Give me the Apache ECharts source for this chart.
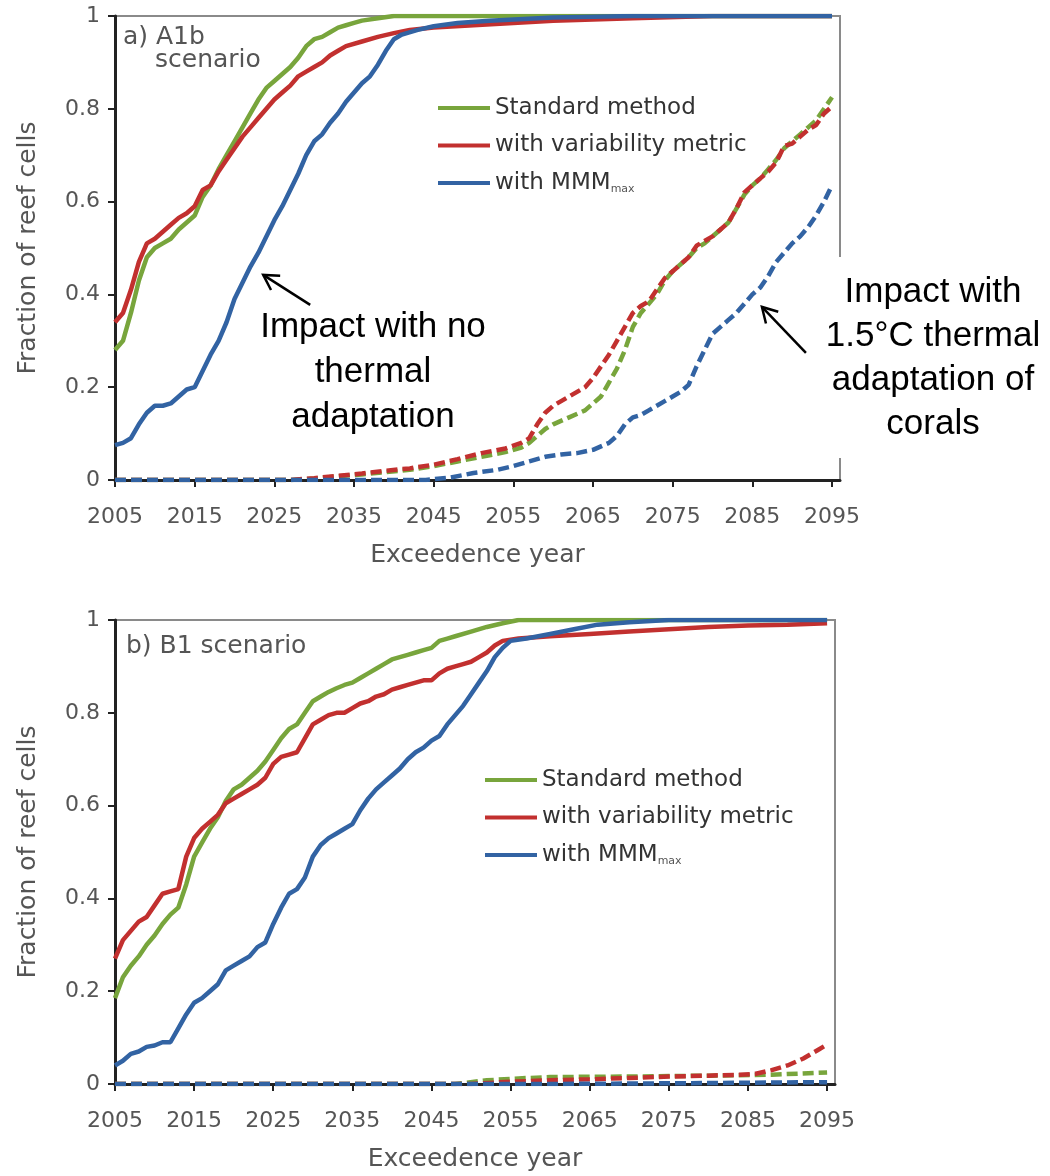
<!DOCTYPE html>
<html>
<head>
<meta charset="utf-8">
<script src="https://cdn.jsdelivr.net/npm/echarts@6/dist/echarts.min.js"></script>
<style>
html,body{margin:0;padding:0;background:#ffffff;}
#chart{width:1050px;height:1176px;}
</style>
</head>
<body>
<div id="chart"></div>
<script>
// ---------- tick labels / categories ----------
const xTickYears = [2005, 2015, 2025, 2035, 2045, 2055, 2065, 2075, 2085, 2095];
const legendNames = ['Standard method', 'with variability metric', 'with MMMmax'];
const panelLabels = ['a) A1b', 'scenario', 'b) B1 scenario'];
const axisNames = ['Fraction of reef cells', 'Exceedence year'];
const noteNoAdapt = 'Impact with no\nthermal\nadaptation';
const noteAdapt = 'Impact with\n1.5\u00B0C thermal\nadaptation of\ncorals';

// ---------- panel a) A1b : no thermal adaptation (solid) ----------
const a1bStandard = [[2005,0.28],[2006,0.30],[2007,0.36],[2008,0.43],[2009,0.48],[2010,0.50],[2011,0.51],[2012,0.52],[2013,0.54],[2014,0.555],[2015,0.57],[2016,0.61],[2017,0.635],[2018,0.67],[2019,0.70],[2020,0.73],[2021,0.76],[2022,0.79],[2023,0.82],[2024,0.845],[2025,0.86],[2026,0.875],[2027,0.89],[2028,0.91],[2029,0.935],[2030,0.95],[2031,0.955],[2032,0.965],[2033,0.975],[2034,0.98],[2035,0.985],[2036,0.99],[2038,0.995],[2040,1],[2095,1]];
const a1bVariability = [[2005,0.34],[2006,0.36],[2007,0.41],[2008,0.47],[2009,0.51],[2010,0.52],[2011,0.535],[2012,0.55],[2013,0.565],[2014,0.575],[2015,0.59],[2016,0.625],[2017,0.635],[2018,0.665],[2019,0.69],[2020,0.715],[2021,0.74],[2022,0.76],[2023,0.78],[2024,0.80],[2025,0.82],[2026,0.835],[2027,0.85],[2028,0.87],[2029,0.88],[2030,0.89],[2031,0.90],[2032,0.915],[2033,0.925],[2034,0.935],[2036,0.945],[2038,0.955],[2040,0.963],[2042,0.97],[2045,0.975],[2050,0.98],[2055,0.985],[2060,0.99],[2070,0.995],[2080,1],[2095,1]];
const a1bMMMmax = [[2005,0.075],[2006,0.08],[2007,0.09],[2008,0.12],[2009,0.145],[2010,0.16],[2011,0.16],[2012,0.165],[2013,0.18],[2014,0.195],[2015,0.20],[2016,0.235],[2017,0.27],[2018,0.30],[2019,0.34],[2020,0.39],[2021,0.425],[2022,0.46],[2023,0.49],[2024,0.525],[2025,0.56],[2026,0.59],[2027,0.625],[2028,0.66],[2029,0.70],[2030,0.73],[2031,0.745],[2032,0.77],[2033,0.79],[2034,0.815],[2035,0.835],[2036,0.855],[2037,0.87],[2038,0.895],[2039,0.925],[2040,0.95],[2041,0.96],[2043,0.97],[2045,0.978],[2048,0.985],[2052,0.99],[2060,0.997],[2070,1],[2095,1]];

// ---------- panel a) A1b : 1.5°C thermal adaptation (dashed) ----------
const a1bStandardAdapt = [[2005,0],[2027,0],[2030,0.003],[2033,0.008],[2036,0.012],[2039,0.017],[2042,0.022],[2045,0.03],[2048,0.04],[2051,0.05],[2054,0.06],[2056,0.07],[2057,0.08],[2058,0.095],[2059,0.11],[2060,0.12],[2062,0.135],[2064,0.15],[2065,0.165],[2066,0.18],[2067,0.21],[2068,0.24],[2069,0.28],[2070,0.33],[2071,0.36],[2072,0.38],[2073,0.40],[2074,0.43],[2075,0.45],[2076,0.465],[2077,0.48],[2078,0.50],[2079,0.51],[2080,0.525],[2081,0.54],[2082,0.555],[2083,0.585],[2084,0.615],[2085,0.635],[2086,0.65],[2087,0.67],[2088,0.69],[2089,0.715],[2090,0.73],[2091,0.745],[2092,0.76],[2093,0.775],[2094,0.80],[2095,0.825]];
const a1bVariabilityAdapt = [[2005,0],[2027,0],[2030,0.004],[2033,0.009],[2036,0.014],[2039,0.02],[2042,0.025],[2045,0.033],[2048,0.045],[2051,0.058],[2054,0.068],[2056,0.08],[2057,0.09],[2058,0.12],[2059,0.145],[2060,0.16],[2061,0.17],[2062,0.18],[2063,0.19],[2064,0.20],[2065,0.22],[2066,0.245],[2067,0.27],[2068,0.30],[2069,0.33],[2070,0.36],[2071,0.375],[2072,0.385],[2073,0.41],[2074,0.435],[2075,0.45],[2076,0.465],[2077,0.48],[2078,0.505],[2079,0.515],[2080,0.525],[2081,0.54],[2082,0.555],[2083,0.585],[2084,0.62],[2085,0.635],[2086,0.65],[2087,0.665],[2088,0.685],[2089,0.72],[2090,0.725],[2091,0.74],[2092,0.755],[2093,0.765],[2094,0.79],[2095,0.805]];
const a1bMMMmaxAdapt = [[2005,0],[2044,0],[2047,0.005],[2050,0.015],[2053,0.022],[2055,0.03],[2057,0.04],[2059,0.05],[2061,0.055],[2063,0.058],[2065,0.065],[2067,0.08],[2068,0.095],[2069,0.12],[2070,0.135],[2071,0.14],[2072,0.15],[2073,0.16],[2074,0.17],[2075,0.18],[2076,0.19],[2077,0.205],[2078,0.245],[2079,0.28],[2080,0.315],[2081,0.33],[2082,0.345],[2083,0.36],[2084,0.38],[2085,0.40],[2086,0.415],[2087,0.44],[2088,0.47],[2089,0.49],[2090,0.51],[2091,0.525],[2092,0.545],[2093,0.57],[2094,0.60],[2095,0.635]];

// ---------- panel b) B1 : no thermal adaptation (solid) ----------
const b1Standard = [[2005,0.185],[2006,0.23],[2007,0.255],[2008,0.275],[2009,0.30],[2010,0.32],[2011,0.345],[2012,0.365],[2013,0.38],[2014,0.43],[2015,0.49],[2016,0.52],[2017,0.55],[2018,0.575],[2019,0.61],[2020,0.635],[2021,0.645],[2022,0.66],[2023,0.675],[2024,0.695],[2025,0.72],[2026,0.745],[2027,0.765],[2028,0.775],[2029,0.80],[2030,0.825],[2031,0.835],[2032,0.845],[2033,0.853],[2034,0.86],[2035,0.865],[2036,0.875],[2037,0.885],[2038,0.895],[2039,0.905],[2040,0.915],[2041,0.92],[2042,0.925],[2043,0.93],[2044,0.935],[2045,0.94],[2046,0.955],[2047,0.96],[2048,0.965],[2050,0.975],[2052,0.985],[2054,0.993],[2056,1],[2095,1]];
const b1Variability = [[2005,0.27],[2006,0.31],[2007,0.33],[2008,0.35],[2009,0.36],[2010,0.385],[2011,0.41],[2012,0.415],[2013,0.42],[2014,0.49],[2015,0.53],[2016,0.55],[2017,0.565],[2018,0.58],[2019,0.605],[2020,0.615],[2021,0.625],[2022,0.635],[2023,0.645],[2024,0.66],[2025,0.69],[2026,0.705],[2027,0.71],[2028,0.715],[2029,0.745],[2030,0.775],[2031,0.785],[2032,0.795],[2033,0.80],[2034,0.80],[2035,0.81],[2036,0.82],[2037,0.825],[2038,0.835],[2039,0.84],[2040,0.85],[2041,0.855],[2042,0.86],[2043,0.865],[2044,0.87],[2045,0.87],[2046,0.885],[2047,0.895],[2048,0.90],[2049,0.905],[2050,0.91],[2051,0.92],[2052,0.93],[2053,0.945],[2054,0.955],[2056,0.96],[2060,0.965],[2065,0.97],[2070,0.975],[2075,0.98],[2080,0.985],[2085,0.988],[2090,0.99],[2095,0.993]];
const b1MMMmax = [[2005,0.04],[2006,0.05],[2007,0.065],[2008,0.07],[2009,0.08],[2010,0.083],[2011,0.09],[2012,0.09],[2013,0.12],[2014,0.15],[2015,0.175],[2016,0.185],[2017,0.20],[2018,0.215],[2019,0.245],[2020,0.255],[2021,0.265],[2022,0.275],[2023,0.295],[2024,0.305],[2025,0.345],[2026,0.38],[2027,0.41],[2028,0.42],[2029,0.445],[2030,0.49],[2031,0.515],[2032,0.53],[2033,0.54],[2034,0.55],[2035,0.56],[2036,0.59],[2037,0.615],[2038,0.635],[2039,0.65],[2040,0.665],[2041,0.68],[2042,0.70],[2043,0.715],[2044,0.725],[2045,0.74],[2046,0.75],[2047,0.775],[2048,0.795],[2049,0.815],[2050,0.84],[2051,0.865],[2052,0.89],[2053,0.92],[2054,0.94],[2055,0.955],[2057,0.96],[2060,0.97],[2063,0.98],[2066,0.99],[2070,0.995],[2075,1],[2095,1]];

// ---------- panel b) B1 : 1.5°C thermal adaptation (dashed) ----------
const b1StandardAdapt = [[2005,0],[2048,0],[2052,0.008],[2056,0.012],[2060,0.015],[2070,0.016],[2080,0.018],[2088,0.02],[2095,0.025]];
const b1VariabilityAdapt = [[2005,0],[2050,0],[2055,0.005],[2060,0.008],[2065,0.01],[2070,0.013],[2075,0.016],[2080,0.018],[2084,0.02],[2086,0.022],[2088,0.03],[2090,0.04],[2092,0.055],[2094,0.075],[2095,0.085]];
const b1MMMmaxAdapt = [[2005,0],[2060,0],[2080,0.002],[2095,0.004]];

// ---------- styling ----------
const GREEN = '#78a53c', RED = '#c2302f', BLUE = '#3263a3';
const TXT = 'DejaVu Sans';

function lineSeries(name, data, color, dashed, idx) {
  return {
    type: 'line', name: name, data: data,
    xAxisIndex: idx, yAxisIndex: idx,
    symbol: 'none', showSymbol: false, animation: false,
    lineStyle: { color: color, width: 4.5, type: dashed ? [11, 5] : 'solid' },
    itemStyle: { color: color },
    z: dashed ? 3 : 2
  };
}

function xAxis(idx, max) {
  return {
    type: 'value', gridIndex: idx, min: 2005, max: max, interval: 10,
    name: axisNames[1], nameLocation: 'middle', nameGap: 63,
    nameTextStyle: { fontFamily: TXT, fontSize: 25, color: '#555' },
    axisLine: { show: true, lineStyle: { color: '#222', width: 3 } },
    axisTick: { show: true, inside: false, length: 7, customValues: xTickYears, lineStyle: { color: '#222', width: 2 } },
    axisLabel: { customValues: xTickYears, margin: 26, fontFamily: TXT, fontSize: 22, color: '#555',
      formatter: function (v) { return String(v); } },
    splitLine: { show: false }
  };
}
function yAxis(idx) {
  return {
    type: 'value', gridIndex: idx, min: 0, max: 1, interval: 0.2,
    name: axisNames[0], nameLocation: 'middle', nameGap: 74,
    nameTextStyle: { fontFamily: TXT, fontSize: 25, color: '#555' },
    axisLine: { show: true, lineStyle: { color: '#222', width: 3 } },
    axisTick: { show: true, inside: false, length: 7, lineStyle: { color: '#222', width: 2 } },
    axisLabel: { margin: 15, fontFamily: TXT, fontSize: 22, color: '#555' },
    splitLine: { show: false }
  };
}
function legend(left, top) {
  return {
    data: legendNames, orient: 'vertical', left: left, top: top,
    icon: 'rect', itemWidth: 52, itemHeight: 4, itemGap: 13.5, padding: 0,
    selectedMode: false,
    formatter: function (n) { return n === 'with MMMmax' ? '{n|with MMM}{s|max}' : n; },
    textStyle: {
      fontFamily: TXT, fontSize: 23, color: '#333', lineHeight: 24,
      rich: {
        n: { fontFamily: TXT, fontSize: 23, color: '#333', lineHeight: 24 },
        s: { fontFamily: TXT, fontSize: 11, color: '#555', lineHeight: 2, verticalAlign: 'bottom' }
      }
    }
  };
}

const chart = echarts.init(document.getElementById('chart'), null, { renderer: 'canvas' });

const option = {
  backgroundColor: '#ffffff',
  animation: false,
  title: [
    { text: panelLabels[0], left: 123, top: 25, textStyle: { fontFamily: TXT, fontSize: 25, fontWeight: 'normal', color: '#555' }, padding: 0 },
    { text: panelLabels[1], left: 155, top: 48, textStyle: { fontFamily: TXT, fontSize: 25, fontWeight: 'normal', color: '#555' }, padding: 0 },
    { text: panelLabels[2], left: 126, top: 634, textStyle: { fontFamily: TXT, fontSize: 25, fontWeight: 'normal', color: '#555' }, padding: 0 }
  ],
  grid: [
    { left: 115, top: 16, width: 725, height: 464, show: true, borderColor: '#8a8a8a', borderWidth: 2, backgroundColor: 'transparent' },
    { left: 115, top: 620, width: 720, height: 464, show: true, borderColor: '#8a8a8a', borderWidth: 2, backgroundColor: 'transparent' }
  ],
  xAxis: [xAxis(0, 2096), xAxis(1, 2096)],
  yAxis: [yAxis(0), yAxis(1)],
  legend: [legend(438, 96), legend(485, 768)],
  series: [
    lineSeries(legendNames[0], a1bStandard, GREEN, false, 0),
    lineSeries(legendNames[1], a1bVariability, RED, false, 0),
    lineSeries(legendNames[2], a1bMMMmax, BLUE, false, 0),
    lineSeries('Standard method, 1.5\u00B0C adaptation', a1bStandardAdapt, GREEN, true, 0),
    lineSeries('with variability metric, 1.5\u00B0C adaptation', a1bVariabilityAdapt, RED, true, 0),
    lineSeries('with MMMmax, 1.5\u00B0C adaptation', a1bMMMmaxAdapt, BLUE, true, 0),
    lineSeries(legendNames[0], b1Standard, GREEN, false, 1),
    lineSeries(legendNames[1], b1Variability, RED, false, 1),
    lineSeries(legendNames[2], b1MMMmax, BLUE, false, 1),
    lineSeries('Standard method, 1.5\u00B0C adaptation', b1StandardAdapt, GREEN, true, 1),
    lineSeries('with variability metric, 1.5\u00B0C adaptation', b1VariabilityAdapt, RED, true, 1),
    lineSeries('with MMMmax, 1.5\u00B0C adaptation', b1MMMmaxAdapt, BLUE, true, 1)
  ]
};
chart.setOption(option);

// ---------- annotations (arrow tips located through the data scale) ----------
function arrow(tip, dx, dy) {
  const tail = [tip[0] + dx, tip[1] + dy];
  const ang = Math.atan2(tip[1] - tail[1], tip[0] - tail[0]);
  const L = 17, spread = Math.PI / 6;
  const p1 = [tip[0] - L * Math.cos(ang - spread), tip[1] - L * Math.sin(ang - spread)];
  const p2 = [tip[0] - L * Math.cos(ang + spread), tip[1] - L * Math.sin(ang + spread)];
  return [
    { type: 'polyline', z: 20, shape: { points: [tail, tip] }, style: { stroke: '#000', lineWidth: 2.5, fill: null } },
    { type: 'polyline', z: 20, shape: { points: [p1, tip, p2] }, style: { stroke: '#000', lineWidth: 2.5, fill: null } }
  ];
}
const tip1 = chart.convertToPixel({ gridIndex: 0 }, [2023.6, 0.442]);
const tip2 = chart.convertToPixel({ gridIndex: 0 }, [2086.2, 0.373]);

chart.setOption({
  graphic: [
    { type: 'rect', z: 1, shape: { x: 775, y: 257, width: 275, height: 201 }, style: { fill: '#ffffff' } },
    { type: 'text', z: 20, style: { text: noteNoAdapt, x: 373, y: 305, align: 'center', verticalAlign: 'top', fontFamily: 'Liberation Sans, Arial, sans-serif', fontSize: 35, lineHeight: 45, fill: '#000' } },
    { type: 'text', z: 20, style: { text: noteAdapt, x: 933, y: 270, align: 'center', verticalAlign: 'top', fontFamily: 'Liberation Sans, Arial, sans-serif', fontSize: 35, lineHeight: 44, fill: '#000' } }
  ].concat(arrow(tip1, 47, 30)).concat(arrow(tip2, 44, 46))
});
</script>
</body>
</html>
